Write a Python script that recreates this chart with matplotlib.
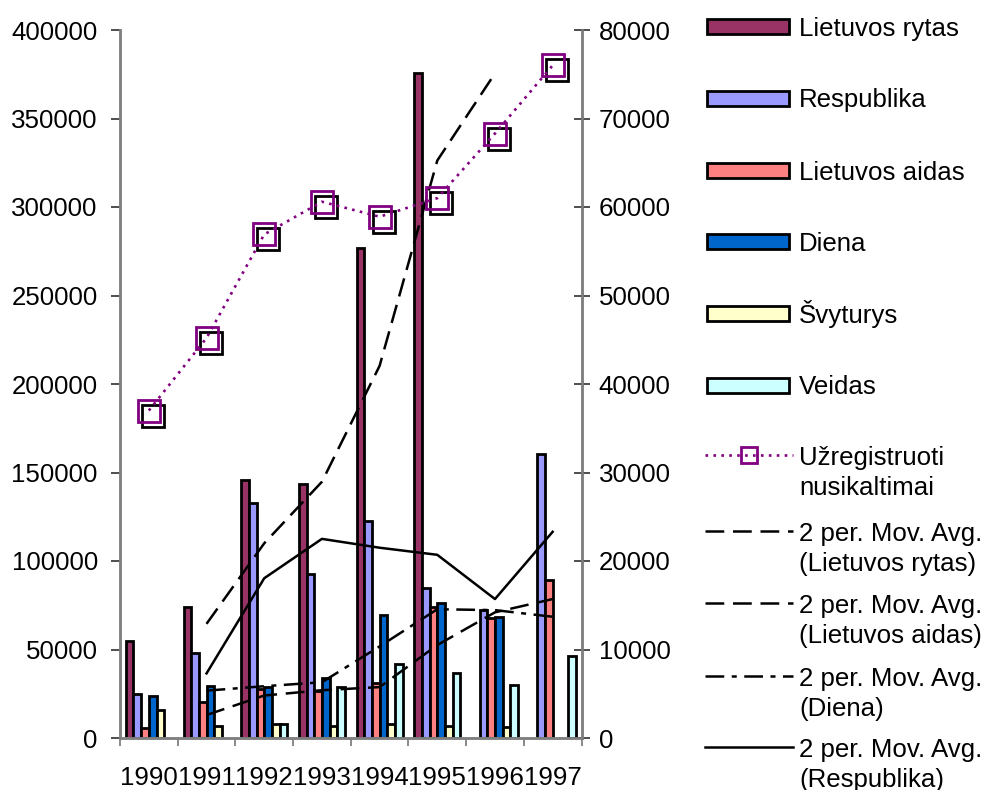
import numpy as np
import pandas as pd
import matplotlib
matplotlib.use("Agg")
import matplotlib.pyplot as plt
import matplotlib.transforms as mtransforms
from matplotlib.patches import Rectangle
from matplotlib.lines import Line2D

plt.rcParams['font.family'] = ['Liberation Sans', 'DejaVu Sans']

# data
years = ['1990', '1991', '1992', '1993', '1994', '1995', '1996', '1997']
lietuvos_rytas = [55000, 74000, 146000, 143500, 277000, 375500, np.nan, np.nan]
respublika = [25000, 48000, 132500, 92500, 122500, 84500, 72500, 160500]
lietuvos_aidas = [5500, 20500, 27500, 26500, 31000, 74000, 68000, 89000]
diena = [24000, 29500, 29000, 34000, 69500, 76000, 68500, np.nan]
svyturys = [16000, 7000, 8000, 7000, 8000, 7000, 6000, np.nan]
veidas = [np.nan, np.nan, 8000, 29000, 42000, 37000, 30000, 46500]
nusikaltimai = [37000, 45200, 56900, 60600, 58900, 61000, 68300, 76000]

bar_names = ['Lietuvos rytas', 'Respublika', 'Lietuvos aidas', 'Diena', 'Švyturys', 'Veidas']
bar_series = [lietuvos_rytas, respublika, lietuvos_aidas, diena, svyturys, veidas]
bar_colors = ['#993366', '#9999FF', '#FF8080', '#0066CC', '#FFFFCC', '#CCFFFF']

W, H = 993, 790
FS = 18.6
GREY = '#808080'
LW = 1.8


def moving_avg(vals):
    # Excel style 2 period moving average, blanks skipped
    s = pd.Series(vals, dtype=float).rolling(2, min_periods=1).mean()
    s.iloc[0] = np.nan
    return s.values


def px(x, y):
    return x / W, 1 - y / H


fig = plt.figure(figsize=(W / 100, H / 100), dpi=100)
ax = fig.add_axes([120 / W, 1 - 738 / H, 461.5 / W, 708 / H])
ax2 = ax.twinx()

x = np.arange(len(years))
bw = 0.133
for j, (vals, c) in enumerate(zip(bar_series, bar_colors)):
    ax.bar(x + (j - 2.5) * bw, vals, bw, color=c, edgecolor='black',
           linewidth=2.0, zorder=2)

# moving average trend lines (left axis)
ma_long = (0, (7.5, 3.5))
ma_dashdot = (0, (7.5, 3, 2, 3))
ax.plot(x, moving_avg(lietuvos_rytas), color='black', lw=LW, ls=ma_long, zorder=3)
ax.plot(x, moving_avg(lietuvos_aidas), color='black', lw=LW, ls=ma_long, zorder=3)
ax.plot(x, moving_avg(diena), color='black', lw=LW, ls=ma_dashdot, zorder=3)
ax.plot(x, moving_avg(respublika), color='black', lw=LW, ls='-', zorder=3)

# registered crimes (right axis), hollow square markers with a shadow
shadow = mtransforms.offset_copy(ax2.transData, fig=fig, x=4, y=-5, units='dots')
ax2.plot(x, nusikaltimai, ls='none', marker='s', ms=16.5, mfc='none',
         mec='black', mew=2.0, transform=shadow)
ax2.plot(x, nusikaltimai, color='#800080', lw=1.9, ls=(0, (1, 2)),
         marker='s', ms=16.5, mfc='none', mec='#800080', mew=2.0)

ax.set_xlim(-0.5, len(years) - 0.5)
ax.set_ylim(0, 400000)
ax2.set_ylim(0, 80000)
ax.set_yticks(np.arange(0, 400001, 50000))
ax2.set_yticks(np.arange(0, 80001, 10000))
ax.set_xticks(x)
ax.set_xticklabels(years)
ax.set_xticks(np.arange(-0.5, len(years)), minor=True)

ax.tick_params(axis='x', which='major', length=0, pad=20, labelsize=FS)
ax.tick_params(axis='x', which='minor', length=6, width=1.3, color=GREY, direction='out')
ax.tick_params(axis='y', length=6.5, width=1.3, color='#404040', direction='out',
               pad=9.5, labelsize=FS)
ax2.tick_params(axis='y', length=12, width=1.3, color='#404040', direction='inout',
                pad=6.5, labelsize=FS)

for a in (ax, ax2):
    a.spines['top'].set_visible(False)
    for side in ('left', 'right', 'bottom'):
        a.spines[side].set_color(GREY)
        a.spines[side].set_linewidth(1.8)

# legend drawn by hand to match the original spacing
rect_y = [26.7, 98.3, 170.5, 241.8, 313.8, 385.5]
for name, c, yc in zip(bar_names, bar_colors, rect_y):
    x0, y0 = px(707, yc + 7.5)
    fig.add_artist(Rectangle((x0, y0), 82 / W, 15 / H, facecolor=c,
                             edgecolor='black', linewidth=2.0,
                             transform=fig.transFigure))
    fig.text(*px(799, yc + 9), name, fontsize=FS, va='baseline', ha='left')

line_entries = [
    (455, dict(color='#800080', lw=1.9, ls=(0, (1, 2))), ['Užregistruoti', 'nusikaltimai']),
    (531, dict(color='black', lw=LW, ls=ma_long), ['2 per. Mov. Avg.', '(Lietuvos rytas)']),
    (602.7, dict(color='black', lw=LW, ls=ma_long), ['2 per. Mov. Avg.', '(Lietuvos aidas)']),
    (676, dict(color='black', lw=LW, ls=ma_dashdot), ['2 per. Mov. Avg.', '(Diena)']),
    (746.7, dict(color='black', lw=LW, ls='-'), ['2 per. Mov. Avg.', '(Respublika)']),
]
for yc, style, lines in line_entries:
    xa, ya = px(705, yc)
    xb, _ = px(793, yc)
    fig.add_artist(Line2D([xa, xb], [ya, ya], transform=fig.transFigure, **style))
    for k, txt in enumerate(lines):
        fig.text(*px(799, yc + 10 + 30 * k), txt, fontsize=FS, va='baseline', ha='left')

# marker of the crimes entry
fig.add_artist(Line2D([px(749, 0)[0]], [px(0, 455)[1]], ls='none', marker='s',
                      ms=11.5, mfc='none', mec='#800080', mew=2.0,
                      transform=fig.transFigure))

fig.savefig('out.png', dpi=100)
